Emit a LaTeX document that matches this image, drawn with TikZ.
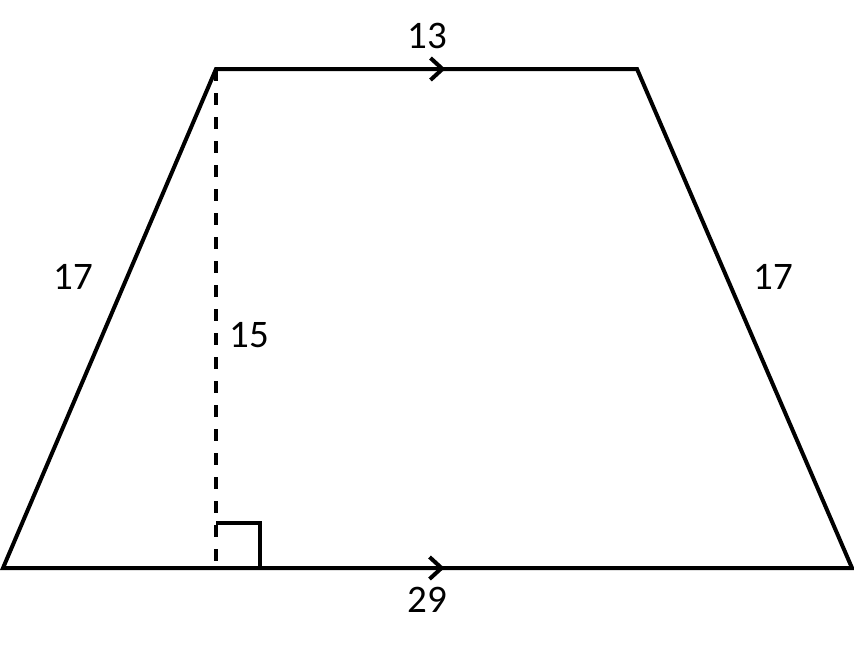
\documentclass[tikz,border=0pt]{standalone}
\usepackage{fontspec}
\setmainfont{Carlito}
\usetikzlibrary{decorations.markings,arrows.meta}
\tikzset{
  side/.style={line width=2pt, line join=miter},
  midarrow/.style={decoration={markings,
      mark=at position #1 with {\arrow{Straight Barb[length=6pt,width=11pt,line width=2pt]}}},
    postaction={decorate}},
  lbl/.style={font=\fontsize{19.5}{22}\selectfont, inner sep=0pt}
}
\begin{document}
\begin{tikzpicture}[x=0.5pt,y=-0.5pt]
        \useasboundingbox (0,0) rectangle (854,645);
        \coordinate (A) at (3,568);
        \coordinate (B) at (852,568);
        \coordinate (C) at (637,69);
        \coordinate (D) at (216,69);
        \coordinate (H) at (216,568);

        \draw[side] (A) -- (B) -- (C) -- (D) -- cycle;
        \path[side, midarrow=0.52] (A) -- (B);
        \path[side, midarrow=0.545] (D) -- (C);

        % height and right angle
        \draw[line width=2pt, dash pattern=on 6pt off 6pt] (D) -- (H);
        \draw[line width=2pt] (216,523) -- (260,523) -- (260,568);

        \node[lbl] (top) at (427,36) {13};
        \node[lbl] (bottom) at (427,600) {29};
        \node[lbl] (left) at (73,277) {17};
        \node[lbl] (right) at (773,277) {17};
        \node[lbl] (height) at (249,335) {15};
    \end{tikzpicture}
\end{document}
